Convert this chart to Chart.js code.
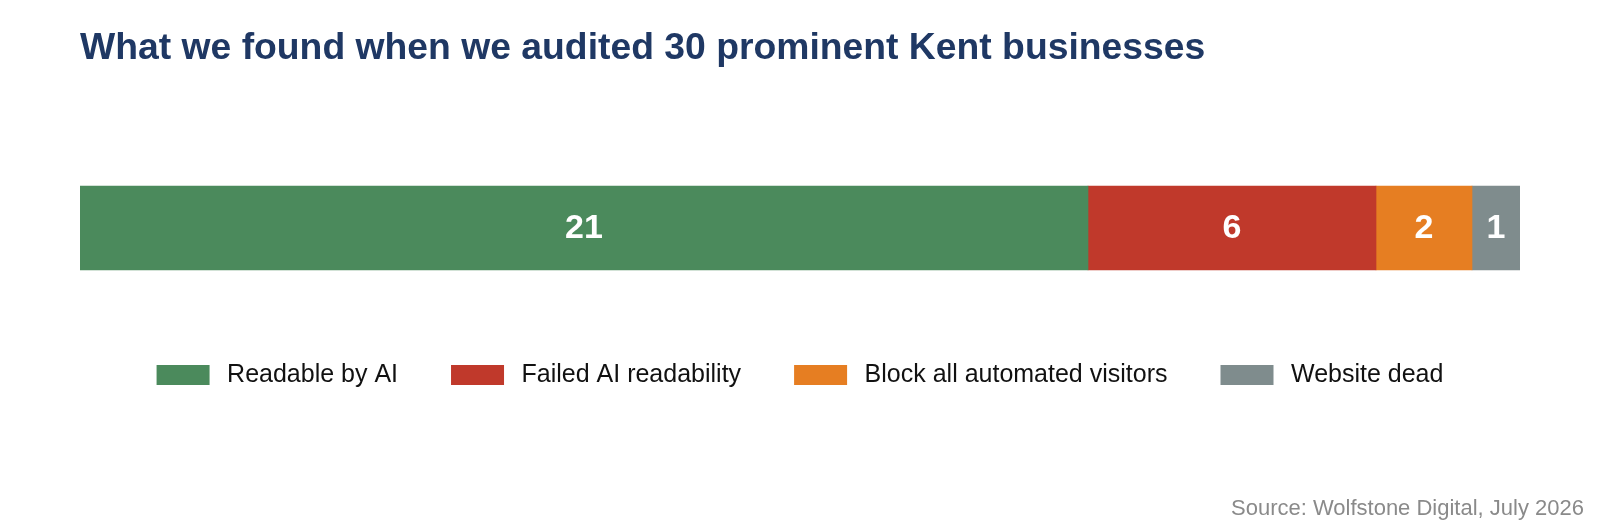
<!DOCTYPE html>
<html>
<head>
<meta charset="utf-8">
<script src="https://cdn.jsdelivr.net/npm/chart.js@4.4.1/dist/chart.umd.min.js"></script>
<style>
  html, body { margin: 0; padding: 0; background: #fff; }
  #wrap { width: 1600px; height: 520px; }
</style>
</head>
<body>
<div id="wrap"><canvas id="myChart" width="1600" height="520"></canvas></div>
<script>
const categories = ["Kent businesses"];
const seriesNames = ["Readable by AI", "Failed AI readability", "Block all automated visitors", "Website dead"];
const seriesValues = [21, 6, 2, 1];
const seriesColors = ["#4b8a5c", "#c0392b", "#e67e22", "#7f8c8d"];

const titleText = "What we found when we audited 30 prominent Kent businesses";
const sourceText = "Source: Wolfstone Digital, July 2026";

const FONT = "'Liberation Sans', Arial, sans-serif";

// title, source and value labels
const textPlugin = {
  id: "textPlugin",
  afterDatasetsDraw(chart) {
    const ctx = chart.ctx;
    ctx.save();
    ctx.fillStyle = "#ffffff";
    ctx.font = "bold 34px " + FONT;
    ctx.textAlign = "center";
    ctx.textBaseline = "alphabetic";
    chart.data.datasets.forEach((ds, i) => {
      const meta = chart.getDatasetMeta(i);
      meta.data.forEach((bar, j) => {
        const cx = (bar.x + bar.base) / 2;
        ctx.fillText(String(ds.data[j]), cx, bar.y + 9.5);
      });
    });
    ctx.restore();
  },
  afterDraw(chart) {
    const ctx = chart.ctx;
    ctx.save();
    ctx.fillStyle = "#1f3864";
    ctx.font = "bold 37.3px " + FONT;
    ctx.textAlign = "left";
    ctx.textBaseline = "alphabetic";
    ctx.fillText(titleText, 80, 59);
    ctx.fillStyle = "#8a8a8a";
    ctx.font = "22px " + FONT;
    ctx.textAlign = "right";
    ctx.fillText(sourceText, 1584, 515);
    ctx.restore();
  }
};

const ctx = document.getElementById("myChart").getContext("2d");
const myChart = new Chart(ctx, {
  type: "bar",
  data: {
    labels: categories,
    datasets: seriesNames.map((name, i) => ({
      label: name,
      data: [seriesValues[i]],
      backgroundColor: seriesColors[i],
      borderWidth: 0,
      barThickness: 84,
    })),
  },
  options: {
    indexAxis: "y",
    responsive: false,
    animation: false,
    layout: {
      padding: { left: 80, right: 80, top: 146.5, bottom: 122.5 },
    },
    scales: {
      x: { stacked: true, min: 0, max: 30, display: false },
      y: { stacked: true, display: false },
    },
    plugins: {
      title: { display: false },
      tooltip: { enabled: false },
      legend: {
        position: "bottom",
        labels: {
          boxWidth: 53,
          boxHeight: 20,
          padding: 53,
          color: "#111111",
          font: { family: FONT, size: 25 },
          // a little more room between swatch and text (thin space)
          generateLabels(chart) {
            const items = Chart.defaults.plugins.legend.labels.generateLabels(chart);
            items.forEach((it) => { it.text = "\u2009" + it.text; });
            return items;
          },
        },
      },
    },
  },
  plugins: [textPlugin],
});
</script>
</body>
</html>
